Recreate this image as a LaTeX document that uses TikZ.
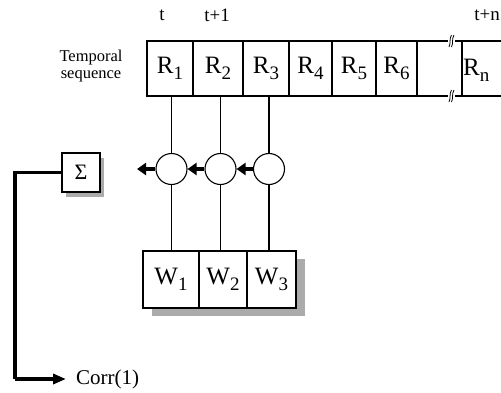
\documentclass[tikz,border=0pt]{standalone}
\usepackage{fontspec}
\setmainfont{Liberation Serif}
\usetikzlibrary{arrows.meta,positioning}
\newcommand{\sbs}[1]{{\fontsize{19}{19}\selectfont\raisebox{-6pt}{#1}}}
\begin{document}
\begin{tikzpicture}[x=1pt,y=-1pt,
  cell/.style={draw,line width=1.1pt,rectangle,inner sep=0pt,minimum height=55pt,font=\fontsize{25}{25}\selectfont},
  wcell/.style={draw,line width=1.1pt,rectangle,inner sep=0pt,minimum height=57pt,fill=white,font=\fontsize{25}{25}\selectfont},
  ring/.style={draw,line width=1.1pt,circle,inner sep=0pt,minimum size=31pt,fill=white},
  lbl/.style={inner sep=0pt,font=\fontsize{19}{19}\selectfont},
  wire/.style={line width=1.1pt},
  flow/.style={line width=4pt,-{Triangle[length=9pt,width=12pt]}},
  thick line/.style={line width=3.2pt},
  shade/.style={fill=black!33}
]
\useasboundingbox (0,0) rectangle (501,392);
% sequence cells
\node[cell,minimum width=46pt] (r1) at (170,68.5) {R\sbs{1}};
\node[cell,minimum width=50pt] (r2) at (218,68.5) {R\sbs{2}};
\node[cell,minimum width=46pt] (r3) at (266,68.5) {R\sbs{3}};
\node[cell,minimum width=43pt] (r4) at (310.5,68.5) {R\sbs{4}};
\node[cell,minimum width=44pt] (r5) at (354,68.5) {R\sbs{5}};
\node[cell,minimum width=41pt] (r6) at (396.5,68.5) {R\sbs{6}};
\node[lbl,anchor=west,font=\fontsize{25}{25}\selectfont] (rn) at (463,70) {R\sbs{n}};
\draw[wire] (417,41) -- (501,41);
\draw[wire] (417,96) -- (501,96);
\draw[wire] (462,41) -- (462,96);
% break marks
\foreach \yy in {41,96}{
  \fill[white] (448,\yy-6) rectangle (455,\yy+6);
  \draw[line width=0.8pt] (449,\yy+6) .. controls (451,\yy+2) and (449,\yy-2) .. (451.5,\yy-6);
  \draw[line width=0.8pt] (451.5,\yy+6) .. controls (453.5,\yy+2) and (451.5,\yy-2) .. (454,\yy-6);
}
% labels
\node[lbl] (lt) at (162,15) {t};
\node[lbl] (lt1) at (217,15) {t+1};
\node[lbl] (ltn) at (487,15) {t+n};
\node[lbl,align=center,font=\fontsize{16.5}{17}\selectfont] (temp) at (91,66) {Temporal\\sequence};
% circles
\node[ring] (c1) at (171.5,169) {};
\node[ring] (c2) at (220.5,169) {};
\node[ring] (c3) at (269,169) {};
\coordinate (tipl) at (137,169);
\draw[flow] (c3.west) -- (c2.east);
\draw[flow] (c2.west) -- (c1.east);
\draw[flow] (c1.west) -- (tipl);
% W boxes with shadow
\fill[shade] (152,259) rectangle (305,316);
\node[wcell,minimum width=56pt] (w1) at (171,279.5) {W\sbs{1}};
\node[wcell,minimum width=48pt] (w2) at (223,279.5) {W\sbs{2}};
\node[wcell,minimum width=49pt] (w3) at (271.5,279.5) {W\sbs{3}};
% vertical wires
\draw[wire] (r1.south -| c1) -- (c1.north);
\draw[wire] (r2.south -| c2) -- (c2.north);
\draw[wire] (r3.south -| c3) -- (c3.north);
\draw[wire] (c1.south) -- (c1.south |- w1.north);
\draw[wire] (c2.south) -- (c2.south |- w2.north);
\draw[wire] (c3.south) -- (c3.south |- w3.north);
% sigma box
\fill[shade] (66,158) rectangle (104,197);
\node[draw,line width=1.1pt,fill=white,minimum width=38pt,minimum height=39pt,inner sep=0pt,font=\fontsize{22}{22}\selectfont] (sig) at (81,172.5) {Σ};
% output
\coordinate (k1) at (15,172.5);
\coordinate (k2) at (15,379);
\node[lbl,anchor=west,font=\fontsize{21}{21}\selectfont] (corr) at (76,379) {Corr(1)};
\draw[thick line] (sig.west) -- (k1) -- (k2);
\draw[thick line,-{Triangle[length=13pt,width=10pt]}] (k2) -- ([xshift=-10pt]corr.west);
\end{tikzpicture}
\end{document}
